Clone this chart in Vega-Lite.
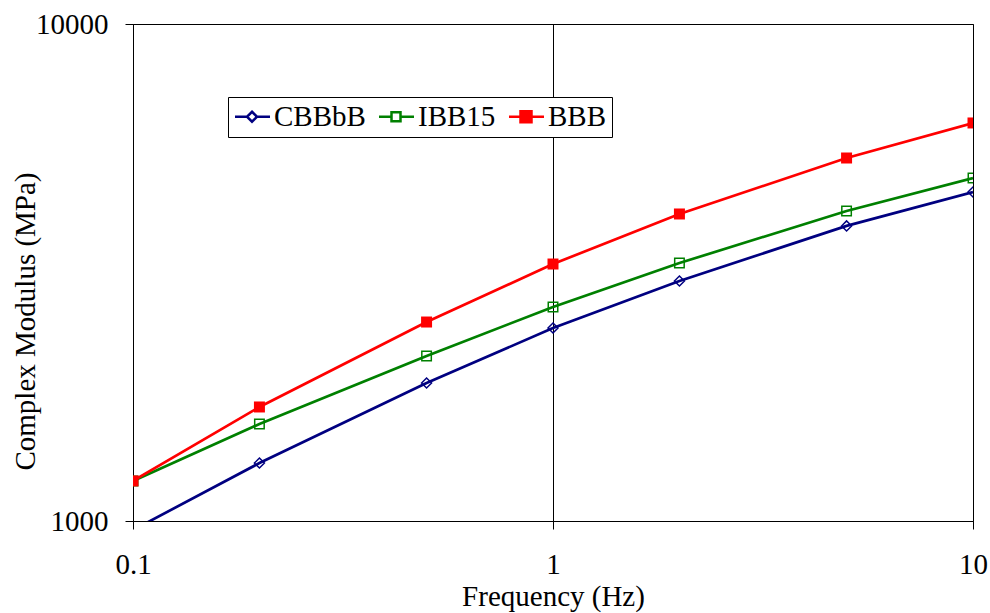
{
  "$schema": "https://vega.github.io/schema/vega-lite/v6.json",
  "width": 840,
  "height": 497,
  "autosize": {"type": "none"},
  "padding": {"left": 133, "top": 24, "right": 17, "bottom": 92},
  "background": "white",
  "config": {
    "view": {"stroke": "black", "strokeWidth": 1},
    "font": "Liberation Serif",
    "axis": {
      "domainColor": "black",
      "tickColor": "black",
      "tickSize": 8,
      "labelFont": "Liberation Serif",
      "labelFontSize": 29,
      "labelColor": "black",
      "labelFlush": false,
      "titleFont": "Liberation Serif",
      "titleFontSize": 29,
      "titleFontWeight": "normal",
      "titleColor": "black"
    },
    "legend": {
      "labelFont": "Liberation Serif",
      "labelFontSize": 29,
      "labelColor": "black",
      "symbolStrokeWidth": 2.5
    }
  },
  "data": {
    "values": [
      {"s": "CBBbB", "f": 0.1, "v": 959},
      {"s": "CBBbB", "f": 0.2, "v": 1308},
      {"s": "CBBbB", "f": 0.5, "v": 1895},
      {"s": "CBBbB", "f": 1, "v": 2445},
      {"s": "CBBbB", "f": 2, "v": 3041},
      {"s": "CBBbB", "f": 5, "v": 3924},
      {"s": "CBBbB", "f": 10, "v": 4591},
      {"s": "IBB15", "f": 0.1, "v": 1204},
      {"s": "IBB15", "f": 0.2, "v": 1567},
      {"s": "IBB15", "f": 0.5, "v": 2148},
      {"s": "IBB15", "f": 1, "v": 2696},
      {"s": "IBB15", "f": 2, "v": 3304},
      {"s": "IBB15", "f": 5, "v": 4205},
      {"s": "IBB15", "f": 10, "v": 4899},
      {"s": "BBB", "f": 0.1, "v": 1204},
      {"s": "BBB", "f": 0.2, "v": 1696},
      {"s": "BBB", "f": 0.5, "v": 2514},
      {"s": "BBB", "f": 1, "v": 3289},
      {"s": "BBB", "f": 2, "v": 4147},
      {"s": "BBB", "f": 5, "v": 5375},
      {"s": "BBB", "f": 10, "v": 6322}
    ]
  },
  "encoding": {
    "x": {
      "field": "f",
      "type": "quantitative",
      "scale": {"type": "log", "domain": [0.1, 10], "nice": false},
      "axis": {
        "values": [0.1, 1, 10],
        "format": "~g",
        "title": "Frequency (Hz)",
        "grid": true,
        "gridColor": "black",
        "gridOpacity": 1,
        "gridWidth": 1,
        "labelPadding": 44,
        "labelBaseline": "alphabetic",
        "titleBaseline": "alphabetic",
        "titleY": 84
      }
    },
    "y": {
      "field": "v",
      "type": "quantitative",
      "scale": {"type": "log", "domain": [1000, 10000], "nice": false},
      "axis": {
        "values": [1000, 10000],
        "format": "d",
        "title": "Complex Modulus (MPa)",
        "grid": false,
        "labelPadding": 17,
        "titleAngle": 270,
        "titleX": -99,
        "titleY": 297,
        "titleAlign": "center",
        "titleBaseline": "alphabetic"
      }
    }
  },
  "layer": [
    {
      "transform": [{"filter": "datum.s == 'CBBbB'"}],
      "layer": [
        {"mark": {"type": "line", "clip": true, "strokeWidth": 2.7, "color": "#000080"}, "encoding": {}},
        {"mark": {"type": "point", "shape": "diamond", "size": 100, "filled": false, "color": "#000080", "strokeWidth": 1.5, "opacity": 1, "clip": true}}
      ]
    },
    {
      "transform": [{"filter": "datum.s == 'IBB15'"}],
      "layer": [
        {"mark": {"type": "line", "clip": true, "strokeWidth": 2.7, "color": "#008000"}, "encoding": {}},
        {"mark": {"type": "point", "shape": "square", "size": 90, "filled": false, "color": "#008000", "strokeWidth": 1.5, "opacity": 1, "clip": true}}
      ]
    },
    {
      "transform": [{"filter": "datum.s == 'BBB'"}],
      "layer": [
        {"mark": {"type": "line", "clip": true, "strokeWidth": 2.7, "color": "#FF0000"}, "encoding": {}},
        {"mark": {"type": "point", "shape": "square", "size": 121, "filled": true, "color": "#FF0000", "opacity": 1, "clip": true}}
      ]
    },
    {
      "transform": [{"filter": "datum.f < 0"}],
      "mark": {"type": "point", "filled": false, "strokeWidth": 2.5, "opacity": 1},
      "encoding": {
        "color": {
          "field": "s",
          "type": "nominal",
          "scale": {"domain": ["CBBbB", "IBB15", "BBB"], "range": ["#000080", "#008000", "#FF0000"]},
          "legend": {
            "title": null,
            "orient": "none",
            "legendX": 95,
            "legendY": 73,
            "direction": "horizontal",
            "labelFont": "Liberation Serif",
            "labelFontSize": 29,
            "labelColor": "black",
            "labelLimit": 300,
            "padding": 5,
            "fillColor": "white",
            "strokeColor": "black",
            "cornerRadius": 0,
            "columnPadding": 8,
            "labelOffset": 12,
            "symbolSize": 400
          }
        },
        "shape": {
          "field": "s",
          "type": "nominal",
          "scale": {
            "domain": ["CBBbB", "IBB15", "BBB"],
            "range": [
              "M-1.25,0H-0.05M0.95,0H2.25M0.45,-0.5L0.95,0L0.45,0.5L-0.05,0Z",
              "M-1.25,0H0M0.9,0H2.25M0,-0.45H0.9V0.45H0Z",
              "M-1.25,0H-0.1M1,0H2.25M-0.1,-0.55H1V0.55H-0.1Z"
            ]
          },
          "legend": {
            "title": null,
            "orient": "none",
            "legendX": 95,
            "legendY": 73,
            "direction": "horizontal",
            "labelFont": "Liberation Serif",
            "labelFontSize": 29,
            "labelColor": "black",
            "labelLimit": 300,
            "padding": 5,
            "fillColor": "white",
            "strokeColor": "black",
            "cornerRadius": 0,
            "columnPadding": 8,
            "labelOffset": 12,
            "symbolSize": 400
          }
        },
        "fill": {
          "field": "s",
          "type": "nominal",
          "scale": {"domain": ["CBBbB", "IBB15", "BBB"], "range": ["white", "white", "#FF0000"]},
          "legend": {
            "title": null,
            "orient": "none",
            "legendX": 95,
            "legendY": 73,
            "direction": "horizontal",
            "labelFont": "Liberation Serif",
            "labelFontSize": 29,
            "labelColor": "black",
            "labelLimit": 300,
            "padding": 5,
            "fillColor": "white",
            "strokeColor": "black",
            "cornerRadius": 0,
            "columnPadding": 8,
            "labelOffset": 12,
            "symbolSize": 400
          }
        }
      }
    }
  ]
}
